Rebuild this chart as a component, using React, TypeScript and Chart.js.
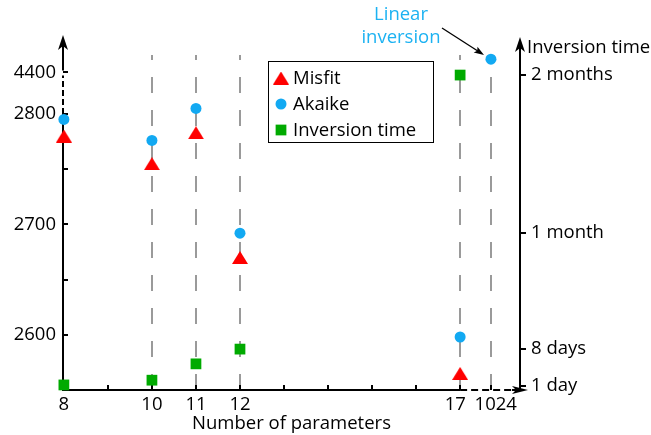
import React, { useEffect, useRef } from 'react';
import { Chart, registerables } from 'chart.js';

Chart.register(...registerables);

// ---------- data ----------
const paramCounts = [8, 10, 11, 12, 17, 1024];
const paramLabels = ['8', '10', '11', '12', '17\u00a0\u00a0', '\u00a0\u00a01024'];
const misfit = [2780, 2755, 2783, 2670, 2565, null];
const akaike = [2795, 2776, 2805, 2692, 2598, 4412];
const inversionDays = [1.2, 2.1, 5.2, 8, 60, null];
const xMinorTicks = [9, 13, 14, 15, 16];
const leftTicks = [2600, 2700, 2800, 4400];
const leftMinorTicks = [2650, 2750];
const rightTicks = [1, 8, 30, 60];
const rightTickLabels = ['1 day', '8 days', '1 month', '2 months'];

// ---------- broken-axis transforms ----------
const X_BREAK_POS = 17.7; // where 1024 sits after the x-axis break
const xPos = (n: number) => (n > 17 ? X_BREAK_POS : n);
const Y_BREAK_VALUE = 4400;
const Y_BREAK_POS = 2837.6; // where 4400 sits after the y-axis break
const yPos = (v: number) => (v >= 4000 ? Y_BREAK_POS + (v - Y_BREAK_VALUE) : v);

const FONT_FAMILY = '"Open Sans", "DejaVu Sans", sans-serif';
const FONT_SIZE = 18.5;
const FONT_WEIGHT = 500;
const RED = '#ff0000';
const BLUE = '#12a9f2';
const GREEN = '#00aa00';
const ANNOT = '#1cb2f2';

function makeTriangle(w: number, h: number, color: string) {
  const c = document.createElement('canvas');
  c.width = w;
  c.height = h;
  const g = c.getContext('2d')!;
  g.fillStyle = color;
  g.beginPath();
  g.moveTo(w / 2, 0);
  g.lineTo(w, h);
  g.lineTo(0, h);
  g.closePath();
  g.fill();
  return c;
}

function arrowHead(ctx: CanvasRenderingContext2D, tx: number, ty: number, angle: number, len: number, half: number, notch: number) {
  ctx.save();
  ctx.translate(tx, ty);
  ctx.rotate(angle);
  ctx.beginPath();
  ctx.moveTo(0, 0);
  ctx.lineTo(-len, -half);
  ctx.lineTo(-len + notch, 0);
  ctx.lineTo(-len, half);
  ctx.closePath();
  ctx.fill();
  ctx.restore();
}

const decorPlugin = {
  id: 'decor',
  beforeDatasetsDraw(chart: any) {
    const { ctx, chartArea, scales } = chart;
    const { left, right, top, bottom } = chartArea;
    const sx = scales.x, sy = scales.y, sy2 = scales.y2;
    ctx.save();

    // grey dashed guide lines
    ctx.strokeStyle = '#9a9a9a';
    ctx.lineWidth = 2;
    ctx.setLineDash([16, 17]);
    const guideTop = top + 20;
    paramCounts.slice(1).forEach((n) => {
      const px = Math.round(sx.getPixelForValue(xPos(n)));
      ctx.beginPath();
      ctx.moveTo(px, bottom);
      ctx.lineTo(px, guideTop);
      ctx.stroke();
    });

    ctx.strokeStyle = '#000';
    ctx.fillStyle = '#000';
    ctx.lineWidth = 2;

    // left axis
    const y2800 = sy.getPixelForValue(2800);
    const y4400 = sy.getPixelForValue(yPos(4400));
    ctx.setLineDash([]);
    ctx.beginPath();
    ctx.moveTo(left, bottom + 1);
    ctx.lineTo(left, y2800);
    ctx.stroke();
    ctx.setLineDash([6, 3]);
    ctx.beginPath();
    ctx.moveTo(left, y2800);
    ctx.lineTo(left, y4400 + 3);
    ctx.stroke();
    ctx.setLineDash([]);
    ctx.beginPath();
    ctx.moveTo(left, y4400 - 2);
    ctx.lineTo(left, top + 10);
    ctx.stroke();
    arrowHead(ctx, left, top, -Math.PI / 2, 15, 5, 4);

    // left ticks
    [...leftTicks.slice(0, 3), ...leftMinorTicks, Y_BREAK_VALUE].forEach((v) => {
      const py = Math.round(sy.getPixelForValue(yPos(v)));
      ctx.beginPath();
      ctx.moveTo(left, py);
      ctx.lineTo(left + 5, py);
      ctx.stroke();
    });

    // x axis
    const x17 = sx.getPixelForValue(17);
    ctx.beginPath();
    ctx.moveTo(left - 1, bottom);
    ctx.lineTo(x17, bottom);
    ctx.stroke();
    ctx.setLineDash([7, 4]);
    ctx.beginPath();
    ctx.moveTo(x17, bottom);
    ctx.lineTo(right - 6, bottom);
    ctx.stroke();
    ctx.setLineDash([]);
    ctx.beginPath();
    ctx.moveTo(right - 8, bottom);
    ctx.lineTo(right + 2, bottom);
    ctx.stroke();
    arrowHead(ctx, right + 8, bottom, 0, 16, 4, 4);

    // x ticks
    [...paramCounts, ...xMinorTicks].forEach((n) => {
      const px = Math.round(sx.getPixelForValue(xPos(n)));
      ctx.beginPath();
      ctx.moveTo(px, bottom);
      ctx.lineTo(px, bottom - 5);
      ctx.stroke();
    });

    // right axis
    ctx.beginPath();
    ctx.moveTo(right, bottom + 1);
    ctx.lineTo(right, top + 12);
    ctx.stroke();
    arrowHead(ctx, right, top + 2, -Math.PI / 2, 15, 5, 4);
    rightTicks.forEach((d) => {
      const py = Math.round(sy2.getPixelForValue(d));
      ctx.beginPath();
      ctx.moveTo(right + 1, py);
      ctx.lineTo(right + 6, py);
      ctx.stroke();
    });

    ctx.restore();
  },
  afterDraw(chart: any) {
    const { ctx, chartArea } = chart;
    const { right, top } = chartArea;
    ctx.save();
    ctx.font = `${FONT_WEIGHT} ${FONT_SIZE}px ${FONT_FAMILY}`;
    ctx.textBaseline = 'middle';
    ctx.fillStyle = '#000';

    // right axis title
    ctx.textAlign = 'left';
    ctx.fillText('Inversion time', right + 7, top + 13);

    // legend
    const bx = 268.5, by = 61.5, bw = 165, bh = 81;
    ctx.strokeStyle = '#000';
    ctx.lineWidth = 1;
    ctx.strokeRect(bx, by, bw, bh);
    const ds = chart.data.datasets;
    const rows = [78, 104, 130];
    ds.forEach((d: any, i: number) => {
      const cy = rows[i];
      const cx = 281;
      ctx.fillStyle = d.backgroundColor;
      if (d.pointStyle === 'circle') {
        ctx.beginPath();
        ctx.arc(cx, cy, d.pointRadius, 0, Math.PI * 2);
        ctx.fill();
      } else if (d.pointStyle === 'rect') {
        const s = d.pointRadius * Math.SQRT1_2;
        ctx.fillRect(cx - s, cy - s, 2 * s, 2 * s);
      } else {
        const img = d.pointStyle as HTMLCanvasElement;
        ctx.drawImage(img, cx - img.width / 2, cy - img.height / 2);
      }
      ctx.fillStyle = '#000';
      ctx.fillText(d.label, 293, cy + 1);
    });

    // annotation
    ctx.fillStyle = ANNOT;
    ctx.textAlign = 'center';
    ctx.fillText('Linear', 401, 15);
    ctx.fillText('inversion', 401, 38);
    ctx.strokeStyle = '#000';
    ctx.fillStyle = '#000';
    ctx.lineWidth = 1.3;
    const ax0 = 442, ay0 = 28, ax1 = 484, ay1 = 55;
    const ang = Math.atan2(ay1 - ay0, ax1 - ax0);
    ctx.beginPath();
    ctx.moveTo(ax0, ay0);
    ctx.lineTo(ax1 - 6 * Math.cos(ang), ay1 - 6 * Math.sin(ang));
    ctx.stroke();
    arrowHead(ctx, ax1, ay1, ang, 10, 3.5, 2);

    ctx.restore();
  },
};

export default function App() {
  const ref = useRef<HTMLCanvasElement>(null);
  useEffect(() => {
    if (!ref.current) return;
    const tri = makeTriangle(16, 13, RED);
    const pts = (vals: (number | null)[]) =>
      paramCounts
        .map((n, i) => (vals[i] == null ? null : { x: xPos(n), y: yPos(vals[i] as number) }))
        .filter((p) => p !== null) as { x: number; y: number }[];
    const daysPts = paramCounts
      .map((n, i) => (inversionDays[i] == null ? null : { x: xPos(n), y: inversionDays[i] as number }))
      .filter((p) => p !== null) as { x: number; y: number }[];

    const font = { family: FONT_FAMILY, size: FONT_SIZE, weight: FONT_WEIGHT };
    const chart = new Chart(ref.current, {
      type: 'scatter',
      data: {
        datasets: [
          {
            label: 'Misfit',
            data: pts(misfit),
            pointStyle: tri as any,
            pointRadius: 8,
            backgroundColor: RED,
            borderWidth: 0,
            yAxisID: 'y',
            clip: false as any,
          },
          {
            label: 'Akaike',
            data: pts(akaike),
            pointStyle: 'circle',
            pointRadius: 5.5,
            backgroundColor: BLUE,
            borderWidth: 0,
            yAxisID: 'y',
            clip: false as any,
          },
          {
            label: 'Inversion time',
            data: daysPts,
            pointStyle: 'rect',
            pointRadius: 7.6,
            backgroundColor: GREEN,
            borderWidth: 0,
            yAxisID: 'y2',
            clip: false as any,
          },
        ],
      },
      options: {
        animation: false,
        responsive: false,
        devicePixelRatio: 1,
        events: [],
        layout: { padding: { top: 35, left: 0, right: 0, bottom: 0 } },
        plugins: { legend: { display: false }, tooltip: { enabled: false } },
        scales: {
          x: {
            type: 'linear',
            position: 'bottom',
            min: 7.98,
            max: 18.36,
            grid: { display: false, drawTicks: false },
            border: { display: false },
            afterBuildTicks: (s: any) => {
              s.ticks = paramCounts.map((n) => ({ value: xPos(n) }));
            },
            afterFit: (s: any) => {
              s.height = 45;
            },
            ticks: {
              autoSkip: false,
              maxRotation: 0,
              padding: 4,
              color: '#000',
              font,
              callback: (_v: any, i: number) => paramLabels[i],
            },
            title: {
              display: true,
              text: 'Number of parameters',
              color: '#000',
              font,
              padding: { top: 0, bottom: 0 },
            },
          },
          y: {
            type: 'linear',
            position: 'left',
            min: 2550,
            max: 2871.5,
            grid: { display: false, drawTicks: false },
            border: { display: false },
            afterBuildTicks: (s: any) => {
              s.ticks = leftTicks.map((v) => ({ value: yPos(v) }));
            },
            afterFit: (s: any) => {
              s.width = 63;
            },
            ticks: {
              padding: 7,
              color: '#000',
              font,
              callback: (_v: any, i: number) => String(leftTicks[i]),
            },
          },
          y2: {
            type: 'linear',
            position: 'right',
            min: 0.24,
            max: 67.6,
            grid: { display: false, drawTicks: false },
            border: { display: false },
            afterBuildTicks: (s: any) => {
              s.ticks = rightTicks.map((v) => ({ value: v }));
            },
            afterFit: (s: any) => {
              s.width = 131;
            },
            ticks: {
              padding: 11,
              color: '#000',
              font,
              callback: (_v: any, i: number) => rightTickLabels[i],
            },
          },
        },
      } as any,
      plugins: [decorPlugin as any],
    });
    return () => chart.destroy();
  }, []);

  return (
    <div style={{ position: 'absolute', left: 0, top: 0, width: 651, height: 435, background: '#fff' }}>
      <canvas ref={ref} width={651} height={435} style={{ display: 'block' }} />
    </div>
  );
}
